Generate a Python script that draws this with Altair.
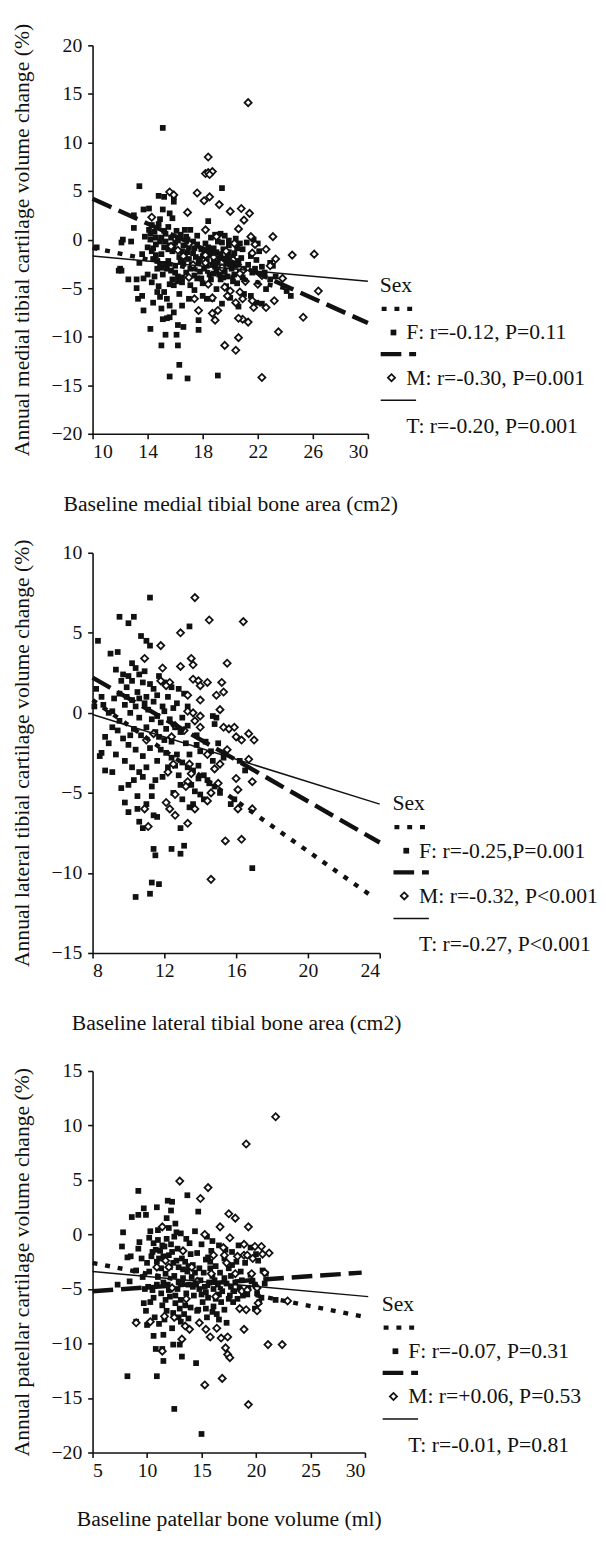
import altair as alt
import pandas as pd

FONT = "Liberation Serif"
INK = "#111111"

# ---------------- Panel 1: medial tibial ----------------
p1_female = [
    (15.1, 11.5), (13.4, 5.5), (19.4, 5.3), (14.8, 4.5), (15.2, 4.4), (15.9, 4.4), (15.9, 3.9),
    (15.1, 3.1), (14.1, 3.2), (13.7, 3.1), (13.0, 2.5), (15.6, 2.7), (15.8, 2.2), (13.0, 1.2),
    (12.2, 0.0), (12.1, -0.3), (12.8, -0.2), (10.3, -0.8), (12.0, -3.0), (12.1, -3.2), (13.2, -4.1),
    (13.7, -4.0), (13.2, -5.0), (13.3, -6.1), (13.7, -7.3), (14.2, -9.2), (14.4, -6.5), (14.7, -5.4),
    (15.2, -5.4), (15.4, -6.1), (15.0, -7.1), (15.1, -8.2), (15.4, -8.1), (15.3, -9.8), (15.0, -10.9),
    (16.1, -9.8), (16.2, -10.9), (16.3, -12.9), (15.6, -14.1), (16.9, -14.3), (19.1, -14.0), (16.2, -8.8),
    (16.6, -9.0), (17.7, -8.3), (17.7, -9.3), (15.6, -8.0), (15.9, -4.7), (16.2, -4.3), (16.5, -3.9),
    (17.1, -4.7), (17.6, -4.0), (18.0, -5.8), (18.3, -6.1), (18.7, -6.1), (19.0, -5.1), (19.3, -4.1),
    (19.5, -3.9), (19.8, -3.8), (20.2, -4.3), (20.5, -4.5), (20.9, -3.9), (21.5, -5.8), (21.9, -6.5),
    (22.3, -6.6), (22.6, -5.1), (22.9, -4.1), (23.1, -2.7), (22.9, -2.4), (24.1, -5.3), (24.4, -5.8),
    (22.1, -1.2), (21.7, 0.0), (22.0, -0.4), (21.2, -0.3), (18.4, 1.9), (18.9, 0.5), (19.3, 0.6),
    (19.6, 0.4), (17.1, 1.0), (16.7, 1.0), (14.3, 1.5), (14.5, 0.8), (14.2, 0.0), (14.6, -0.5),
    (14.3, -1.2), (14.4, -2.0), (14.9, -2.5), (14.7, -3.0), (15.5, 1.3), (15.3, 0.6), (15.7, 0.2),
    (16.0, -0.3), (15.2, -0.8), (15.8, -1.2), (16.3, -1.8), (15.5, -2.2), (16.0, -2.7), (16.6, -0.6),
    (16.9, -1.3), (17.3, -0.2), (17.5, -1.8), (17.2, -2.6), (17.9, -1.0), (18.2, -0.4), (18.6, -1.2),
    (18.3, -2.2), (18.9, -2.8), (19.2, -1.9), (19.5, -1.0), (19.9, -0.6), (20.3, -1.4), (19.7, -2.5),
    (20.1, -3.0), (20.6, -2.2), (20.9, -1.0), (21.3, -2.6), (17.8, -3.3), (18.5, -3.6), (19.0, -3.3),
    (16.8, -3.4), (15.1, -3.6), (14.0, -3.6), (13.6, -1.5), (14.9, 2.1), (16.4, 0.5), (17.6, 0.4),
    (20.4, 0.1), (19.1, -0.2), (18.0, -4.5), (19.7, -4.8), (16.3, -5.6), (17.0, -6.1), (16.5, -6.8),
    (15.9, -7.5), (14.8, -4.8), (12.6, -4.1), (13.6, -5.8), (13.4, -2.4), (14.6, -1.6), (18.8, -0.9),
    (20.7, -3.4), (21.8, -3.0), (23.3, -3.8), (22.5, -3.4), (17.4, -5.2), (19.4, -6.6), (20.0, -6.0),
    (20.6, -6.9), (21.0, -5.6), (11.9, -3.2),
    (14.1, 1.0), (14.8, 1.6), (15.3, -0.2), (15.0, -1.5), (15.6, -0.6), (16.1, 0.9), (16.5, -1.2),
    (16.8, 0.3), (17.0, -2.0), (17.4, -0.9), (17.7, -2.4), (18.0, -1.7), (18.4, -0.8), (18.7, -2.6),
    (19.0, -1.3), (19.4, -0.3), (19.8, -1.8), (20.0, -2.6), (20.5, -0.9), (20.8, -1.9), (21.0, -3.0),
    (21.5, -1.7), (15.4, -3.0), (16.0, -3.4), (16.6, -2.5), (17.1, -3.0), (18.1, -3.0), (18.8, -3.5),
    (19.6, -3.3), (20.3, -3.6), (14.5, -3.8), (15.8, -4.1), (17.4, -3.7), (16.9, 0.0), (18.6, 0.2),
    (15.0, 0.2), (14.0, -0.8), (13.8, 0.3), (19.9, -0.1), (20.7, -0.4),
    (14.2, 0.6), (14.6, 0.2), (14.9, -0.2), (15.2, 0.9), (15.5, -1.0), (15.9, -0.7), (16.2, -0.1),
    (16.4, -2.3), (16.7, -1.9), (17.0, -0.8), (17.3, -1.4), (17.6, -0.5), (17.8, -2.0), (18.1, -1.3),
    (18.3, -2.7), (18.5, -1.6), (18.8, -2.2), (19.1, -2.4), (19.3, -1.5), (19.6, -2.0), (19.9, -1.3),
    (20.2, -1.8), (20.4, -2.7), (15.0, -2.9), (15.3, -2.5), (15.7, -3.2), (16.2, -3.8), (14.7, -2.2),
    (14.4, -0.9), (19.2, -3.6), (18.6, -4.1), (17.9, -4.0), (16.5, -4.4), (15.6, -4.6), (14.3, -4.4),
    (14.9, -5.9), (15.6, -6.8), (21.9, -2.1), (21.6, -3.4), (22.3, -2.8),
]
p1_male = [
    (21.3, 14.1), (18.4, 8.5), (18.2, 6.8), (18.4, 6.9), (18.7, 7.0), (18.5, 6.7), (15.6, 4.9),
    (15.9, 4.6), (17.6, 4.8), (18.5, 4.4), (18.1, 4.0), (19.2, 3.6), (16.9, 2.8), (20.0, 2.9),
    (20.8, 3.2), (21.4, 2.7), (21.0, 2.0), (20.6, 1.1), (18.2, 1.0), (14.3, 2.3), (23.1, 0.3),
    (21.5, 0.3), (21.8, -0.5), (24.5, -1.6), (26.1, -1.5), (21.6, -1.4), (19.7, -1.2), (18.2, -1.6),
    (23.3, -2.0), (22.9, -2.7), (20.9, -3.2), (20.7, -3.5), (22.3, -3.7), (19.6, -4.9), (20.0, -5.3),
    (17.4, -6.1), (18.7, -6.0), (20.7, -5.4), (20.9, -6.1), (19.8, -5.8), (20.4, -6.5), (22.6, -7.0),
    (23.2, -6.3), (21.7, -7.0), (26.4, -5.3), (17.7, -7.3), (18.7, -7.6), (19.1, -7.3), (18.9, -8.3),
    (20.9, -8.2), (21.3, -8.5), (20.6, -8.1), (25.3, -8.0), (23.5, -9.5), (19.6, -10.9), (20.6, -10.1),
    (20.4, -11.4), (22.3, -14.2), (15.7, -0.7), (16.2, -1.1), (17.3, -2.6), (18.2, -2.4), (16.6, -1.7),
    (17.0, -0.4), (18.8, -1.8), (19.4, -2.9), (20.2, -2.1), (21.1, -4.3), (22.0, -4.6), (18.4, -4.6),
    (17.0, -3.9), (20.3, -0.4), (19.0, 0.3), (22.6, -1.0), (23.8, -4.0), (21.6, -6.3),
]
# regression lines: (group, x_start, y_start, x_end, y_end)
p1_fits = [("F", 10, -0.85, 24, -5.0), ("M", 10, 4.2, 30, -8.6), ("T", 10, -1.7, 30, -4.3)]
p1_labels = ["F: r=-0.12, P=0.11", "M: r=-0.30, P=0.001", "T: r=-0.20, P=0.001"]

# ---------------- Panel 2: lateral tibial ----------------
p2_female = [
    (11.2, 7.2), (9.5, 6.0), (10.3, 6.0), (10.0, 5.6), (8.3, 4.5), (10.7, 4.8), (11.0, 4.5), (11.2, 4.2),
    (9.0, 3.7), (9.4, 3.8), (10.2, 3.1), (9.3, 2.7), (9.7, 2.4), (13.4, 5.4), (8.2, 1.5), (8.5, 1.0),
    (8.9, 0.0), (9.1, 0.1), (8.1, 0.4), (9.5, 1.2), (9.9, 1.6), (10.6, 2.4), (10.9, 2.6), (10.2, 2.0),
    (9.1, -0.9), (8.7, -1.5), (8.4, -2.7), (8.5, -2.5), (9.3, -2.6), (8.7, -3.6), (9.1, -3.7), (9.6, -4.7),
    (9.8, -5.6), (10.0, -6.2), (10.5, -6.0), (10.6, -6.8), (10.8, -7.2), (10.3, -4.2), (10.8, -4.0),
    (11.3, -4.6), (11.3, -5.2), (11.6, -6.5), (11.4, -6.4), (11.4, -8.5), (11.5, -8.9), (12.4, -8.5),
    (12.9, -8.8), (13.1, -8.3), (11.3, -10.6), (11.2, -11.3), (11.7, -10.7), (10.4, -11.5), (16.9, -9.7),
    (12.9, -7.2), (13.4, -5.9), (13.6, -5.7), (14.0, -5.1), (13.9, -4.1), (14.4, -4.2), (14.7, -3.0),
    (14.8, -0.7), (14.9, -0.3), (14.7, -0.2), (15.7, -5.7), (15.9, -5.4), (12.0, -1.7),
    (9.8, 0.5), (10.1, 0.0), (10.4, 0.4), (10.6, -0.3), (10.9, 0.6), (11.1, 0.2), (11.4, 0.7), (11.6, -0.2),
    (11.9, 0.4), (12.2, 1.0), (12.5, 0.3), (12.8, 1.5), (13.1, 1.2), (10.3, -1.0), (10.7, -1.4), (11.0, -0.9),
    (11.5, -1.2), (11.8, -0.6), (12.3, -0.4), (12.6, -0.9), (13.0, -0.3), (13.3, -0.8), (10.5, 1.3),
    (11.2, 1.8), (11.6, 1.1), (12.0, 1.9), (12.4, 1.6), (10.0, -2.0), (10.4, -2.3), (10.8, -2.7),
    (11.2, -2.2), (9.8, -3.0), (10.2, -3.4), (11.8, -2.3), (12.1, -2.5), (12.4, -2.8), (12.7, -2.6),
    (13.0, -3.1), (13.3, -3.4), (13.6, -3.6), (13.9, -3.3), (14.2, -3.9), (14.5, -4.4), (14.8, -4.6),
    (15.1, -5.0), (12.2, -3.4), (12.8, -3.9), (13.5, -4.5), (11.9, -4.0), (12.5, -5.0), (13.0, -5.4),
    (13.8, -1.4), (14.3, -1.8), (14.0, -2.4), (15.3, -2.8), (15.0, -1.9), (16.2, -3.0), (16.5, -3.6),
    (9.9, 1.0), (9.5, -0.5), (8.9, -1.9), (9.4, -1.1),
    (9.6, 2.0), (10.0, 2.3), (10.4, 2.8), (10.8, 1.9), (11.0, 1.0), (11.4, 1.5), (11.7, 2.3), (10.2, 0.8),
    (10.6, 0.9), (11.3, -0.4), (11.7, -1.5), (12.1, -1.0), (12.4, -1.8), (12.9, -1.2), (13.2, -1.9),
    (13.4, -2.6), (12.6, -3.3), (12.9, -4.5), (13.7, -4.9), (14.2, -5.4), (11.6, -3.0), (11.0, -3.4),
    (10.6, -3.7), (11.5, -4.2), (10.0, -4.5), (10.5, -5.2), (11.0, -5.7), (13.8, -2.0), (14.6, -2.4),
    (12.0, 0.1), (12.7, 0.6), (13.3, 0.4), (9.2, 0.9), (8.6, 0.5), (9.7, -1.6), (10.1, -1.4),
]
p2_male = [
    (13.7, 7.2), (14.5, 5.8), (16.4, 5.7), (12.9, 5.0), (11.8, 4.2), (15.5, 3.1), (10.9, 3.4), (11.9, 2.8),
    (12.9, 2.9), (13.5, 3.4), (13.6, 3.0), (11.8, 2.0), (12.3, 1.9), (13.6, 2.1), (13.9, 2.0), (14.4, 1.9),
    (15.2, 1.9), (14.0, 1.7), (13.3, 1.1), (14.0, 0.8), (14.9, 1.1), (15.3, 1.3), (15.1, 0.2), (13.3, 0.1),
    (13.6, 0.0), (14.0, -0.2), (13.7, -0.5), (14.0, -0.9), (15.3, -0.9), (15.6, -1.0), (15.9, -0.9),
    (16.0, -1.5), (16.7, -1.3), (17.0, -1.7), (16.3, -1.7), (16.7, -2.9), (12.1, 1.7), (12.2, -3.7),
    (12.5, -3.2), (12.1, -5.6), (12.3, -6.0), (12.6, -6.4), (12.6, -5.1), (13.3, -4.3), (13.4, -3.2),
    (13.5, -3.8), (13.2, -4.6), (13.7, -6.0), (13.3, -6.9), (14.4, -5.5), (14.6, -5.0), (14.8, -3.5),
    (15.1, -3.2), (15.0, -4.4), (16.0, -4.1), (16.1, -4.8), (16.1, -6.0), (16.9, -4.3), (16.9, -6.0),
    (15.4, -8.0), (16.3, -7.9), (14.6, -10.4), (11.0, -1.7), (11.4, -1.3), (12.6, -0.8), (10.9, -6.0),
    (11.1, -7.1), (12.4, -1.5), (13.1, -1.1), (14.4, -2.6), (15.5, -2.3),
]
p2_fits = [("F", 8, 0.8, 23.5, -11.4), ("M", 8, 2.2, 24, -8.1), ("T", 8, -0.1, 24, -5.7)]
p2_labels = ["F: r=-0.25,P=0.001", "M: r=-0.32, P<0.001", "T: r=-0.27, P<0.001"]

# ---------------- Panel 3: patellar ----------------
p3_female = [
    (9.2, 4.0), (13.7, 3.6), (14.7, 2.1), (11.9, 3.1), (12.3, 3.0), (10.9, 2.5), (9.7, 2.4), (9.2, 1.8),
    (8.6, 1.6), (9.9, 1.8), (11.8, 1.5), (7.8, 0.2), (7.7, -1.1), (9.3, -0.7), (9.2, -1.3), (8.5, -2.0),
    (8.2, -2.1), (7.3, -4.6), (8.2, -13.0), (10.9, -13.0), (12.5, -16.0), (15.0, -18.3), (14.5, -11.8),
    (11.5, -11.6), (10.8, -10.5), (11.4, -10.5), (10.6, -9.3), (11.5, -9.2), (12.4, -10.1), (13.0, -10.1),
    (13.2, -11.2), (9.0, -8.0), (10.0, -8.3), (9.7, -6.3), (16.6, -7.8), (17.3, -8.1), (17.1, -6.9),
    (14.7, -6.9), (15.4, -6.8), (16.1, -6.6), (15.4, -2.3), (15.8, -2.5), (15.6, -2.1), (18.2, -2.5),
    (17.8, -2.8), (20.6, -3.3), (20.9, -3.6), (21.8, -6.0), (20.3, -6.2), (19.9, -6.8), (20.1, -5.4),
    (19.9, -4.6), (10.2, -0.3), (10.6, -0.8), (11.0, -0.5), (11.4, -1.0), (11.8, -0.4), (12.2, -0.9),
    (12.5, -0.2), (12.8, -1.3), (11.0, 0.4), (12.0, 0.6), (12.6, 1.0), (10.4, -2.0), (10.9, -2.5),
    (11.3, -3.1), (11.7, -3.6), (12.1, -3.0), (12.5, -3.8), (12.9, -4.4), (13.3, -4.0), (13.7, -3.4),
    (14.1, -3.9), (14.5, -4.6), (14.9, -4.2), (15.3, -4.8), (15.7, -4.4), (16.1, -5.0), (16.5, -4.6),
    (16.9, -5.2), (17.3, -4.5), (17.7, -4.8), (18.1, -4.4), (18.5, -4.9), (10.1, -4.8), (10.5, -5.1),
    (10.9, -4.6), (11.3, -5.4), (11.7, -6.0), (12.1, -5.7), (12.6, -6.3), (13.0, -6.8), (13.4, -7.3),
    (13.8, -7.7), (10.2, -3.4), (9.6, -3.9), (9.8, -5.0), (10.7, -7.6), (11.1, -8.2), (11.6, -7.8),
    (12.3, -8.6), (14.2, -2.8), (14.6, -1.7), (15.0, -0.9), (15.5, -0.2), (15.9, -1.5), (16.3, -2.9),
    (16.7, -3.5), (17.1, -2.2), (17.5, -3.1), (18.6, -3.4), (19.0, -2.6), (19.5, -3.7), (20.2, -2.4),
    (20.8, -4.5), (20.5, -5.8), (18.8, -5.6), (17.9, -6.2), (16.4, -7.3), (15.1, -6.2), (14.3, -5.6),
    (13.6, -5.4), (12.8, -5.0), (14.8, -3.1), (13.2, -2.2), (13.9, -0.8), (16.0, -0.6), (17.2, -1.4),
    (18.4, -1.0), (20.0, -1.8), (8.4, -4.3), (9.0, -3.3), (12.2, 2.2), (13.1, 0.1), (14.4, 0.3),
    (10.3, 0.3), (10.8, -1.4), (11.5, -2.0), (12.0, -1.9), (12.4, -2.6), (12.9, -3.0), (13.5, -2.5),
    (13.8, -4.6), (14.2, -4.8), (15.0, -5.5), (15.6, -5.8), (16.3, -5.9), (16.8, -6.2), (17.6, -5.6),
    (18.3, -5.9), (19.2, -5.5), (19.6, -4.3), (17.7, -3.8), (16.0, -3.8), (15.2, -3.5), (14.0, -1.8),
    (11.9, -4.6), (11.4, -6.5), (12.4, -7.2), (13.1, -8.0), (10.3, -6.2), (9.9, -7.0), (10.0, -2.6),
    (9.5, -2.2), (11.2, -1.5), (12.7, 0.2), (13.6, -0.4), (16.6, -1.0), (17.8, -1.6), (19.5, -1.2),
    (10.5, -1.6), (11.1, -2.2), (11.6, -1.1), (12.3, -1.6), (12.7, -2.4), (13.3, -3.2), (13.8, -2.9),
    (14.4, -3.5), (14.8, -5.0), (15.4, -5.3), (15.8, -3.1), (16.2, -4.2), (16.6, -5.5), (17.1, -4.0),
    (17.5, -5.9), (18.0, -5.2), (18.7, -4.2), (19.3, -4.9), (11.0, -3.9), (11.5, -4.4), (12.0, -5.1),
    (12.6, -5.6), (13.1, -6.0), (13.5, -6.5), (14.0, -6.7), (14.6, -7.0), (10.6, -5.8), (11.8, -7.0),
    (12.9, -7.6), (16.0, -7.1), (15.5, -7.6),
]
p3_male = [
    (21.8, 10.8), (19.1, 8.3), (13.0, 4.9), (15.6, 4.3), (14.9, 3.3), (17.5, 1.9), (18.1, 1.5), (11.4, 0.7),
    (16.7, 0.7), (19.3, 0.7), (15.3, 0.0), (17.6, -0.3), (18.9, -0.9), (19.9, -1.1), (20.5, -1.1),
    (21.2, -1.7), (20.6, -1.8), (13.3, -1.5), (12.0, -3.0), (17.0, -1.2), (17.1, -1.9), (17.3, -2.6),
    (18.9, -1.9), (19.2, -1.9), (19.6, -3.6), (18.1, -3.6), (14.1, -3.0), (10.9, -3.0), (18.7, -5.2),
    (19.2, -5.1), (16.3, -5.7), (18.5, -6.8), (19.1, -6.9), (20.1, -7.0), (22.9, -6.1), (11.6, -7.5),
    (12.5, -7.6), (13.5, -8.4), (13.9, -8.7), (14.8, -8.1), (15.4, -8.7), (15.8, -9.4), (16.4, -8.6),
    (16.8, -9.5), (17.4, -9.4), (17.2, -10.4), (17.4, -11.0), (17.6, -11.3), (13.2, -9.6), (11.4, -10.7),
    (18.9, -8.7), (21.1, -10.1), (22.4, -10.1), (15.3, -13.8), (16.9, -13.2), (19.3, -15.6), (9.0, -8.1),
    (10.3, -8.0), (14.6, -4.3), (15.9, -3.6), (13.6, -5.9), (12.3, -4.9), (11.7, -2.4), (16.1, -1.9),
    (20.8, -3.5), (20.1, -4.9), (19.7, -2.2), (18.3, -2.0), (20.2, -6.3),
]
p3_fits = [("F", 5, -2.6, 29.7, -7.5), ("M", 5, -5.2, 29.7, -3.5), ("T", 5, -3.4, 30.3, -5.7)]
p3_labels = ["F: r=-0.07, P=0.31", "M: r=+0.06, P=0.53", "T: r=-0.01, P=0.81"]

LINE_STYLE = {
    "F": dict(strokeDash=[5, 8], strokeWidth=4.5),
    "M": dict(strokeDash=[21, 8], strokeWidth=4.5),
    "T": dict(strokeWidth=1.5),
}
SQ_SIZE = 34
DIA_SIZE = 52


def one():
    return alt.Data(values=[{"k": 1}])


def legend(x0, y0, labels):
    txt = dict(font=FONT, fontSize=22, color=INK, align="left", baseline="middle")
    items = [
        alt.Chart(one()).mark_text(**txt).encode(x=alt.value(x0), y=alt.value(y0), text=alt.value("Sex")),
        alt.Chart(one()).mark_rule(color=INK, strokeCap="butt", **LINE_STYLE["F"]).encode(
            x=alt.value(x0 + 2), x2=alt.value(x0 + 37), y=alt.value(y0 + 24)),
        alt.Chart(one()).mark_point(shape="square", filled=True, size=SQ_SIZE, color=INK, opacity=1).encode(
            x=alt.value(x0 + 14), y=alt.value(y0 + 48)),
        alt.Chart(one()).mark_text(**txt).encode(x=alt.value(x0 + 27), y=alt.value(y0 + 48), text=alt.value(labels[0])),
        alt.Chart(one()).mark_rule(color=INK, strokeCap="butt", **LINE_STYLE["M"]).encode(
            x=alt.value(x0 + 1), x2=alt.value(x0 + 37), y=alt.value(y0 + 70)),
        alt.Chart(one()).mark_point(shape="diamond", filled=True, fill="white", stroke=INK, strokeWidth=1.8,
                                    size=DIA_SIZE, opacity=1).encode(x=alt.value(x0 + 12), y=alt.value(y0 + 94)),
        alt.Chart(one()).mark_text(**txt).encode(x=alt.value(x0 + 27), y=alt.value(y0 + 94), text=alt.value(labels[1])),
        alt.Chart(one()).mark_rule(color=INK, **LINE_STYLE["T"]).encode(
            x=alt.value(x0 + 1), x2=alt.value(x0 + 37), y=alt.value(y0 + 117)),
        alt.Chart(one()).mark_text(**txt).encode(x=alt.value(x0 + 27), y=alt.value(y0 + 143), text=alt.value(labels[2])),
    ]
    return items


def panel(female, male, fits, labels, xdom, xticks, ydom, yticks, xtitle, ytitle, w, h, leg,
          top_room=None, xpad=33):
    pts = pd.DataFrame(
        [{"x": a, "y": b, "sex": "F"} for a, b in female] + [{"x": a, "y": b, "sex": "M"} for a, b in male]
    )
    xs = alt.Scale(domain=xdom, nice=False, zero=False)
    ys = alt.Scale(domain=ydom, nice=False, zero=False)
    xax = alt.Axis(values=xticks, title=xtitle, grid=False, format="d", titlePadding=xpad)
    yax = alt.Axis(values=yticks, title=ytitle, grid=False, format="d")

    base = alt.Chart(pts)
    fem = base.transform_filter(alt.datum.sex == "F").mark_point(
        shape="square", filled=True, size=SQ_SIZE, color=INK, opacity=1
    ).encode(x=alt.X("x:Q", scale=xs, axis=xax), y=alt.Y("y:Q", scale=ys, axis=yax))
    mal = base.transform_filter(alt.datum.sex == "M").mark_point(
        shape="diamond", filled=True, fill="white", stroke=INK, strokeWidth=1.8, size=DIA_SIZE, opacity=1
    ).encode(x="x:Q", y="y:Q")

    layers = [fem, mal]
    for g, x1, y1, x2, y2 in fits:
        df = pd.DataFrame({"x": [x1, x2], "y": [y1, y2]})
        layers.append(
            alt.Chart(df).mark_line(color=INK, strokeCap="butt", clip=False, **LINE_STYLE[g]).encode(x="x:Q", y="y:Q")
        )
    layers += legend(leg[0], leg[1], labels)
    if top_room is not None:
        # empty spacer that only reserves room above the plot
        layers.append(
            alt.Chart(one()).mark_rule(opacity=0, strokeOpacity=0).encode(
                x=alt.value(0), y=alt.value(-top_room), y2=alt.value(-top_room + 2))
        )
    return alt.layer(*layers).properties(width=w, height=h)


p1 = panel(p1_female, p1_male, p1_fits, p1_labels, [10, 30], [10, 14, 18, 22, 26, 30], [-20, 20],
           [-20, -15, -10, -5, 0, 5, 10, 15, 20], "Baseline medial tibial bone area (cm2)",
           "Annual medial tibial cartilage volume change (%)", 280, 395, (292, 244))
p2 = panel(p2_female, p2_male, p2_fits, p2_labels, [8, 24], [8, 12, 16, 20, 24], [-15, 10],
           [-15, -10, -5, 0, 5, 10], "Baseline lateral tibial bone area (cm2)",
           "Annual lateral tibial cartilage volume change (%)", 292, 407, (305, 255))
p3 = panel(p3_female, p3_male, p3_fits, p3_labels, [5, 30], [5, 10, 15, 20, 25, 30], [-20, 15],
           [-20, -15, -10, -5, 0, 5, 10, 15], "Baseline patellar bone volume (ml)",
           "Annual patellar cartilage volume change (%)", 277, 388, (294, 237), top_room=13, xpad=29)

chart = alt.vconcat(p1, p2, p3, spacing=25).properties(
    padding={"left": 2, "top": 2, "right": 0, "bottom": 0}
).configure_view(stroke=None).configure_axis(
    domainColor=INK, domainWidth=1.6, tickColor=INK, tickWidth=1.6, tickSize=5,
    labelFont=FONT, labelFontSize=20, labelColor=INK, labelPadding=3,
    titleFont=FONT, titleFontSize=22, titleColor=INK, titleFontWeight="normal",
).configure_axisY(titlePadding=18, labelPadding=6)

chart.save("out.html", embed_options={"renderer": "svg", "actions": False})
